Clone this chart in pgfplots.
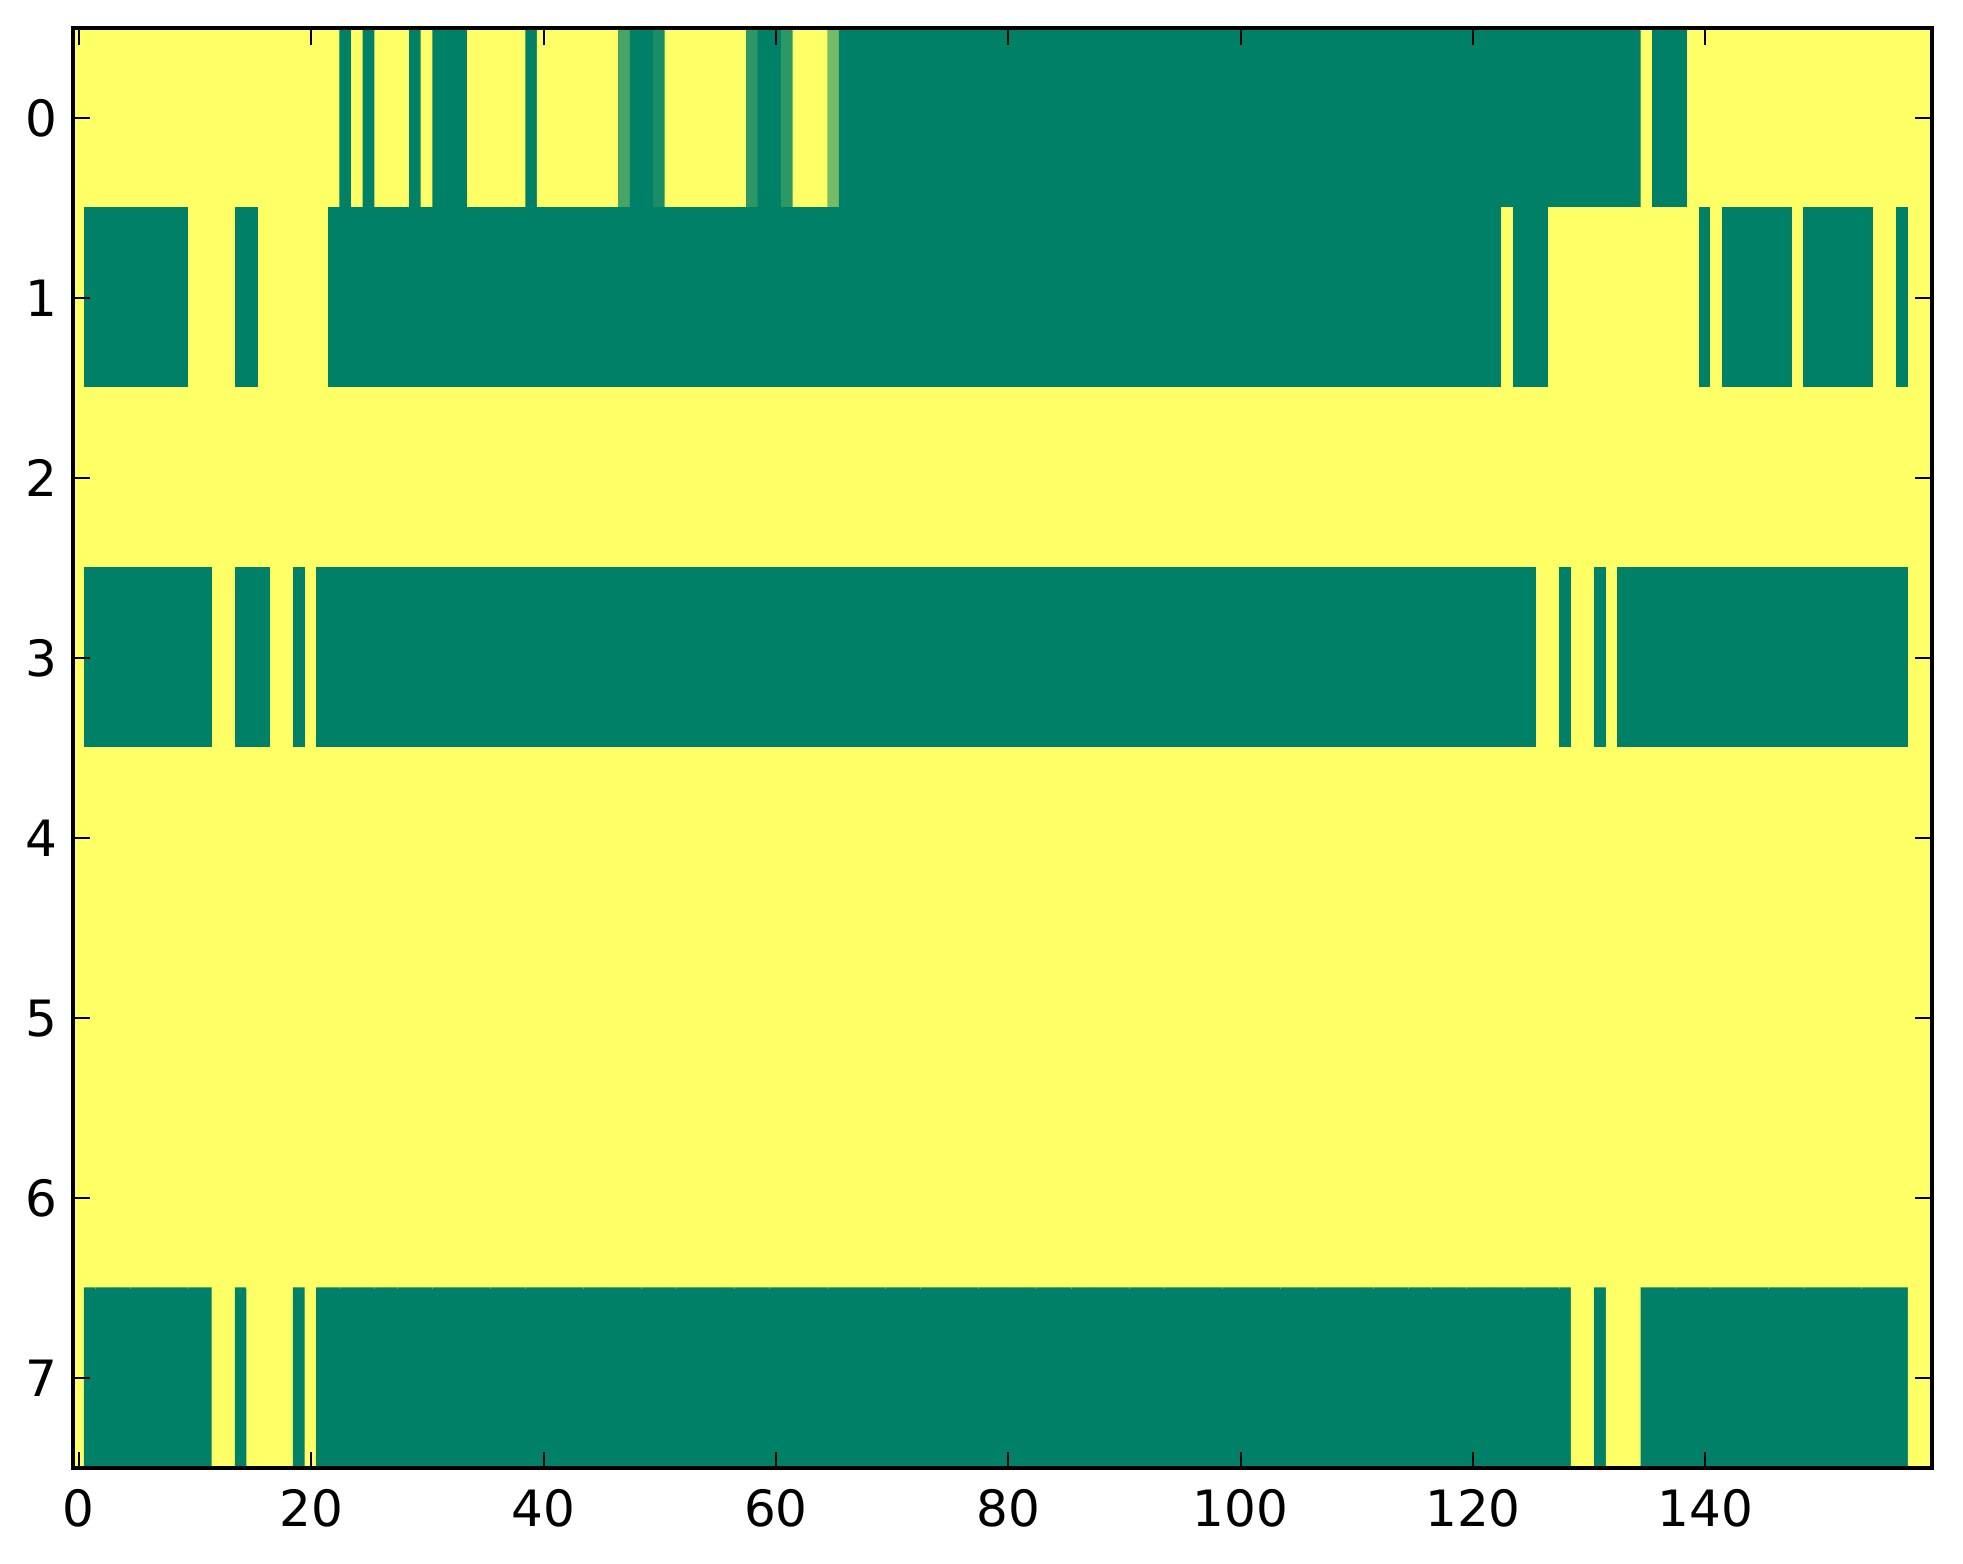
\documentclass[border=0pt]{standalone}
\usepackage{fontspec}
\setmainfont{DejaVu Sans}
\usepackage{pgfplots}
\pgfplotsset{compat=1.18}
\begin{document}
\begin{tikzpicture}
\begin{axis}[
  at={(0,0)}, anchor=south west,
  scale only axis, width=447.8pt, height=346.9pt,
  xmin=-0.5, xmax=159.5, ymin=-0.5, ymax=7.5, y dir=reverse,
  enlargelimits=false,
  axis on top,
  xtick={0,20,...,140}, ytick={0,1,...,7},
  tick align=inside,
  major tick length=4pt,
  every tick/.style={black, line width=0.5pt},
  axis line style={line width=0.9pt},
  colormap={summer}{rgb255=(0,128,102) rgb255=(255,255,102)},
  point meta min=0, point meta max=1,
  /pgf/number format/assume math mode=true,
  ticklabel style={font=\fontsize{12.05}{14}\selectfont, inner sep=0pt},
  xticklabel style={yshift=-5pt},
  yticklabel style={xshift=-3.6pt},
]
\addplot[matrix plot*, mesh/rows=8, mesh/cols=160, point meta=explicit]
 table[row sep=\\, x expr={mod(\coordindex,160)}, y expr={floor(\coordindex/160)}, meta=c] {
c\\
% row 0
1\\1\\1\\1\\1\\1\\1\\1\\1\\1\\ 1\\1\\1\\1\\1\\1\\1\\1\\1\\1\\
1\\1\\1\\0\\1\\0\\1\\1\\1\\0\\ 1\\0\\0\\0\\1\\1\\1\\1\\1\\0\\
1\\1\\1\\1\\1\\1\\1\\0.28\\0\\0\\ 0.1\\1\\1\\1\\1\\1\\1\\1\\0.18\\0\\
0\\0.18\\1\\1\\1\\0.46\\0\\0\\0\\0\\ 0\\0\\0\\0\\0\\0\\0\\0\\0\\0\\
0\\0\\0\\0\\0\\0\\0\\0\\0\\0\\ 0\\0\\0\\0\\0\\0\\0\\0\\0\\0\\
0\\0\\0\\0\\0\\0\\0\\0\\0\\0\\ 0\\0\\0\\0\\0\\0\\0\\0\\0\\0\\
0\\0\\0\\0\\0\\0\\0\\0\\0\\0\\ 0\\0\\0\\0\\0\\1\\0\\0\\0\\1\\
1\\1\\1\\1\\1\\1\\1\\1\\1\\1\\ 1\\1\\1\\1\\1\\1\\1\\1\\1\\1\\
% row 1
1\\0\\0\\0\\0\\0\\0\\0\\0\\0\\ 1\\1\\1\\1\\0\\0\\1\\1\\1\\1\\
1\\1\\0\\0\\0\\0\\0\\0\\0\\0\\ 0\\0\\0\\0\\0\\0\\0\\0\\0\\0\\
0\\0\\0\\0\\0\\0\\0\\0\\0\\0\\ 0\\0\\0\\0\\0\\0\\0\\0\\0\\0\\
0\\0\\0\\0\\0\\0\\0\\0\\0\\0\\ 0\\0\\0\\0\\0\\0\\0\\0\\0\\0\\
0\\0\\0\\0\\0\\0\\0\\0\\0\\0\\ 0\\0\\0\\0\\0\\0\\0\\0\\0\\0\\
0\\0\\0\\0\\0\\0\\0\\0\\0\\0\\ 0\\0\\0\\0\\0\\0\\0\\0\\0\\0\\
0\\0\\0\\1\\0\\0\\0\\1\\1\\1\\ 1\\1\\1\\1\\1\\1\\1\\1\\1\\1\\
0\\1\\0\\0\\0\\0\\0\\0\\1\\0\\ 0\\0\\0\\0\\0\\1\\1\\0\\1\\1\\
% row 2
1\\1\\1\\1\\1\\1\\1\\1\\1\\1\\ 1\\1\\1\\1\\1\\1\\1\\1\\1\\1\\
1\\1\\1\\1\\1\\1\\1\\1\\1\\1\\ 1\\1\\1\\1\\1\\1\\1\\1\\1\\1\\
1\\1\\1\\1\\1\\1\\1\\1\\1\\1\\ 1\\1\\1\\1\\1\\1\\1\\1\\1\\1\\
1\\1\\1\\1\\1\\1\\1\\1\\1\\1\\ 1\\1\\1\\1\\1\\1\\1\\1\\1\\1\\
1\\1\\1\\1\\1\\1\\1\\1\\1\\1\\ 1\\1\\1\\1\\1\\1\\1\\1\\1\\1\\
1\\1\\1\\1\\1\\1\\1\\1\\1\\1\\ 1\\1\\1\\1\\1\\1\\1\\1\\1\\1\\
1\\1\\1\\1\\1\\1\\1\\1\\1\\1\\ 1\\1\\1\\1\\1\\1\\1\\1\\1\\1\\
1\\1\\1\\1\\1\\1\\1\\1\\1\\1\\ 1\\1\\1\\1\\1\\1\\1\\1\\1\\1\\
% row 3
1\\0\\0\\0\\0\\0\\0\\0\\0\\0\\ 0\\0\\1\\1\\0\\0\\0\\1\\1\\0\\
1\\0\\0\\0\\0\\0\\0\\0\\0\\0\\ 0\\0\\0\\0\\0\\0\\0\\0\\0\\0\\
0\\0\\0\\0\\0\\0\\0\\0\\0\\0\\ 0\\0\\0\\0\\0\\0\\0\\0\\0\\0\\
0\\0\\0\\0\\0\\0\\0\\0\\0\\0\\ 0\\0\\0\\0\\0\\0\\0\\0\\0\\0\\
0\\0\\0\\0\\0\\0\\0\\0\\0\\0\\ 0\\0\\0\\0\\0\\0\\0\\0\\0\\0\\
0\\0\\0\\0\\0\\0\\0\\0\\0\\0\\ 0\\0\\0\\0\\0\\0\\0\\0\\0\\0\\
0\\0\\0\\0\\0\\0\\1\\1\\0\\1\\ 1\\0\\1\\0\\0\\0\\0\\0\\0\\0\\
0\\0\\0\\0\\0\\0\\0\\0\\0\\0\\ 0\\0\\0\\0\\0\\0\\0\\0\\1\\1\\
% row 4
1\\1\\1\\1\\1\\1\\1\\1\\1\\1\\ 1\\1\\1\\1\\1\\1\\1\\1\\1\\1\\
1\\1\\1\\1\\1\\1\\1\\1\\1\\1\\ 1\\1\\1\\1\\1\\1\\1\\1\\1\\1\\
1\\1\\1\\1\\1\\1\\1\\1\\1\\1\\ 1\\1\\1\\1\\1\\1\\1\\1\\1\\1\\
1\\1\\1\\1\\1\\1\\1\\1\\1\\1\\ 1\\1\\1\\1\\1\\1\\1\\1\\1\\1\\
1\\1\\1\\1\\1\\1\\1\\1\\1\\1\\ 1\\1\\1\\1\\1\\1\\1\\1\\1\\1\\
1\\1\\1\\1\\1\\1\\1\\1\\1\\1\\ 1\\1\\1\\1\\1\\1\\1\\1\\1\\1\\
1\\1\\1\\1\\1\\1\\1\\1\\1\\1\\ 1\\1\\1\\1\\1\\1\\1\\1\\1\\1\\
1\\1\\1\\1\\1\\1\\1\\1\\1\\1\\ 1\\1\\1\\1\\1\\1\\1\\1\\1\\1\\
% row 5
1\\1\\1\\1\\1\\1\\1\\1\\1\\1\\ 1\\1\\1\\1\\1\\1\\1\\1\\1\\1\\
1\\1\\1\\1\\1\\1\\1\\1\\1\\1\\ 1\\1\\1\\1\\1\\1\\1\\1\\1\\1\\
1\\1\\1\\1\\1\\1\\1\\1\\1\\1\\ 1\\1\\1\\1\\1\\1\\1\\1\\1\\1\\
1\\1\\1\\1\\1\\1\\1\\1\\1\\1\\ 1\\1\\1\\1\\1\\1\\1\\1\\1\\1\\
1\\1\\1\\1\\1\\1\\1\\1\\1\\1\\ 1\\1\\1\\1\\1\\1\\1\\1\\1\\1\\
1\\1\\1\\1\\1\\1\\1\\1\\1\\1\\ 1\\1\\1\\1\\1\\1\\1\\1\\1\\1\\
1\\1\\1\\1\\1\\1\\1\\1\\1\\1\\ 1\\1\\1\\1\\1\\1\\1\\1\\1\\1\\
1\\1\\1\\1\\1\\1\\1\\1\\1\\1\\ 1\\1\\1\\1\\1\\1\\1\\1\\1\\1\\
% row 6
1\\1\\1\\1\\1\\1\\1\\1\\1\\1\\ 1\\1\\1\\1\\1\\1\\1\\1\\1\\1\\
1\\1\\1\\1\\1\\1\\1\\1\\1\\1\\ 1\\1\\1\\1\\1\\1\\1\\1\\1\\1\\
1\\1\\1\\1\\1\\1\\1\\1\\1\\1\\ 1\\1\\1\\1\\1\\1\\1\\1\\1\\1\\
1\\1\\1\\1\\1\\1\\1\\1\\1\\1\\ 1\\1\\1\\1\\1\\1\\1\\1\\1\\1\\
1\\1\\1\\1\\1\\1\\1\\1\\1\\1\\ 1\\1\\1\\1\\1\\1\\1\\1\\1\\1\\
1\\1\\1\\1\\1\\1\\1\\1\\1\\1\\ 1\\1\\1\\1\\1\\1\\1\\1\\1\\1\\
1\\1\\1\\1\\1\\1\\1\\1\\1\\1\\ 1\\1\\1\\1\\1\\1\\1\\1\\1\\1\\
1\\1\\1\\1\\1\\1\\1\\1\\1\\1\\ 1\\1\\1\\1\\1\\1\\1\\1\\1\\1\\
% row 7
1\\0\\0\\0\\0\\0\\0\\0\\0\\0\\ 0\\0\\1\\1\\0\\1\\1\\1\\1\\0\\
1\\0\\0\\0\\0\\0\\0\\0\\0\\0\\ 0\\0\\0\\0\\0\\0\\0\\0\\0\\0\\
0\\0\\0\\0\\0\\0\\0\\0\\0\\0\\ 0\\0\\0\\0\\0\\0\\0\\0\\0\\0\\
0\\0\\0\\0\\0\\0\\0\\0\\0\\0\\ 0\\0\\0\\0\\0\\0\\0\\0\\0\\0\\
0\\0\\0\\0\\0\\0\\0\\0\\0\\0\\ 0\\0\\0\\0\\0\\0\\0\\0\\0\\0\\
0\\0\\0\\0\\0\\0\\0\\0\\0\\0\\ 0\\0\\0\\0\\0\\0\\0\\0\\0\\0\\
0\\0\\0\\0\\0\\0\\0\\0\\0\\1\\ 1\\0\\1\\1\\1\\0\\0\\0\\0\\0\\
0\\0\\0\\0\\0\\0\\0\\0\\0\\0\\ 0\\0\\0\\0\\0\\0\\0\\0\\1\\1\\
};
\end{axis}
\pgfresetboundingbox
\path[use as bounding box] (-17.59pt,-23.05pt) rectangle (455.3pt,353.7pt);
\end{tikzpicture}
\end{document}
